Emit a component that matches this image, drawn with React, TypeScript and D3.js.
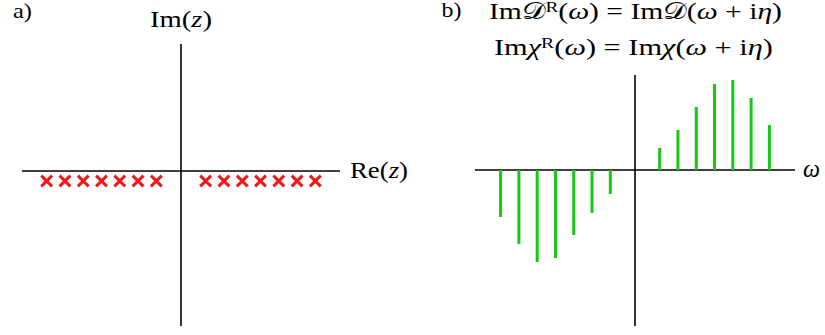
import React from "react";
import * as d3 from "d3";

// pole positions (same for both panels), in units of the level spacing
const poleLeft = [-7.35, -6.35, -5.35, -4.35, -3.35, -2.35, -1.35];
const poleRight = [1.35, 2.35, 3.35, 4.35, 5.35, 6.35, 7.35];

// spectral weights for panel b
const weightNeg = [-0.47, -0.74, -0.92, -0.88, -0.65, -0.43, -0.24];
const weightPos = [0.22, 0.4, 0.63, 0.86, 0.9, 0.72, 0.45];

const W = 825;
const H = 335;
const serif = "'Liberation Serif', 'Times New Roman', serif";
const red = "#f01818";
const green = "#14c814";

export default function App() {
  // panel a
  const xa = d3.scaleLinear().domain([-8.7, 8.7]).range([22, 340]);
  const ya = d3.scaleLinear().domain([-1.55, 1.27]).range([326, 44]);
  // panel b
  const xb = d3.scaleLinear().domain([-8.75, 8.75]).range([475, 795]);
  const yb = d3.scaleLinear().domain([-1.56, 0.95]).range([326, 75]);

  const cross = d3.symbol().type(d3.symbolX).size(78)();
  const poles = [...poleLeft, ...poleRight];
  const bars = [
    ...poleLeft.map((p, i) => [p, weightNeg[i]]),
    ...poleRight.map((p, i) => [p, weightPos[i]]),
  ];

  const sup = (t: string) => (
    <tspan baselineShift="42%" fontSize="65%">{t}</tspan>
  );
  const it = (t: string) => <tspan fontStyle="italic">{t}</tspan>;
  const script = "\u{1D49F}";

  return (
    <svg width={W} height={H} style={{ position: "absolute", left: 0, top: 0, background: "#fff" }}>
      <g fontFamily={serif} fill="#000">
        {/* panel a */}
        <text x={13} y={18} fontSize={21} textLength={19} lengthAdjust="spacingAndGlyphs">a)</text>
        <text x={150} y={27} fontSize={24} textLength={62} lengthAdjust="spacingAndGlyphs">Im({it("z")})</text>
        <text x={350} y={178} fontSize={24} textLength={58} lengthAdjust="spacingAndGlyphs">Re({it("z")})</text>

        {/* panel b */}
        <text x={441.5} y={17} fontSize={21} textLength={20} lengthAdjust="spacingAndGlyphs">b)</text>
        <text x={489} y={18.5} fontSize={24} textLength={293} lengthAdjust="spacingAndGlyphs">
          Im{script}{sup("R")}({it("ω")}) = Im{script}({it("ω")} + i{it("η")})
        </text>
        <text x={494} y={55} fontSize={24} textLength={279} lengthAdjust="spacingAndGlyphs">
          Im{it("χ")}{sup("R")}({it("ω")}) = Im{it("χ")}({it("ω")} + i{it("η")})
        </text>
        <text x={803} y={177} fontSize={25} textLength={17} lengthAdjust="spacingAndGlyphs">{it("ω")}</text>
      </g>

      {/* axes a */}
      <line x1={xa.range()[0]} x2={xa.range()[1]} y1={ya(0)} y2={ya(0)} stroke="#000" strokeWidth={1.6} />
      <line x1={xa(0)} x2={xa(0)} y1={ya.range()[0]} y2={ya.range()[1]} stroke="#000" strokeWidth={1.6} />
      {poles.map((p, i) => (
        <path key={i} d={cross as string} transform={`translate(${xa(p)},${ya(-0.1)})`}
          fill="none" stroke={red} strokeWidth={3} />
      ))}

      {/* axes b */}
      <line x1={xb.range()[0]} x2={xb.range()[1]} y1={yb(0)} y2={yb(0)} stroke="#000" strokeWidth={1.6} />
      <line x1={xb(0)} x2={xb(0)} y1={yb.range()[0]} y2={yb.range()[1]} stroke="#000" strokeWidth={1.6} />
      {bars.map(([p, v], i) => (
        <line key={i} x1={xb(p)} x2={xb(p)} y1={yb(0)} y2={yb(v)} stroke={green} strokeWidth={3} />
      ))}
    </svg>
  );
}
